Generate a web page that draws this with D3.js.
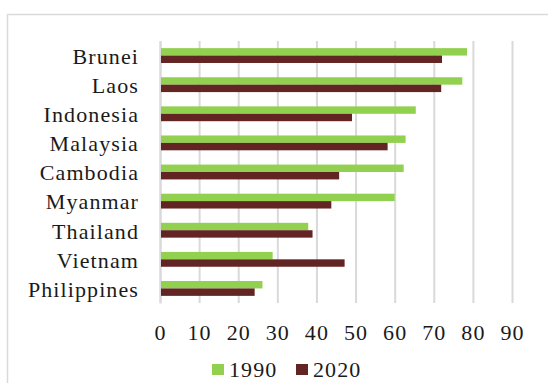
<!DOCTYPE html>
<html>
<head>
<meta charset="utf-8">
<script src="https://cdn.jsdelivr.net/npm/d3@7"></script>
<style>
  body { margin: 0; background: #fff; }
  svg text { font-family: "Liberation Serif", "Times New Roman", serif; fill: #1a1a1a; letter-spacing: 1.1px; }
</style>
</head>
<body>
<svg class="chart" width="548" height="383"></svg>
<script>
// countries, top to bottom
const countries = ["Brunei", "Laos", "Indonesia", "Malaysia", "Cambodia", "Myanmar", "Thailand", "Vietnam", "Philippines"];
const values1990 = [78.5, 77.3, 65.4, 62.8, 62.3, 60.0, 37.9, 28.8, 26.2];
const values2020 = [72.1, 71.9, 49.1, 58.2, 45.8, 43.8, 39.0, 47.2, 24.2];
const years = ["1990", "2020"];
const xTicks = [0, 10, 20, 30, 40, 50, 60, 70, 80, 90];
const colors = ["#92d050", "#632523"];

const svg = d3.select(".chart");
const plot = { left: 160, right: 512, top: 41, bottom: 303 };

// outer chart frame
svg.append("rect")
    .attr("x", 7.5).attr("y", 14.5)
    .attr("width", 600).attr("height", 400)
    .attr("fill", "none")
    .attr("stroke", "#d9d9d9")
    .attr("stroke-width", 1.5);

const x = d3.scaleLinear().domain([0, 90]).range([plot.left, plot.right]);
const y = d3.scaleBand().domain(countries).range([plot.top, plot.bottom]).paddingInner(0.49).paddingOuter(0.245);
const ySub = d3.scaleBand().domain(years).range([0, y.bandwidth()]);

// gridlines
const xAxis = d3.axisBottom(x).tickValues(xTicks).tickSize(plot.bottom - plot.top).tickFormat(d => d);
const gx = svg.append("g")
    .attr("transform", `translate(0,${plot.top})`)
    .call(xAxis);
gx.select(".domain").remove();
gx.selectAll(".tick line").attr("stroke", "#d9d9d9").attr("stroke-width", 2);
gx.selectAll(".tick text")
    .attr("y", plot.bottom - plot.top + 30)
    .attr("dy", "0.32em")
    .style("font-size", "22px");

// category axis
const yAxis = d3.axisLeft(y).tickSize(0).tickPadding(21);
const gy = svg.append("g")
    .attr("transform", `translate(${plot.left},0)`)
    .call(yAxis);
gy.select(".domain").attr("stroke", "#d9d9d9").attr("stroke-width", 2);
gy.selectAll(".tick text").style("font-size", "22px").attr("dy", "0.38em");

// bars
const rows = countries.map((c, i) => ({ country: c, vals: [values1990[i], values2020[i]] }));
const groups = svg.append("g").selectAll("g")
    .data(rows)
    .join("g")
    .attr("transform", d => `translate(0,${y(d.country)})`);

groups.selectAll("rect")
    .data(d => d.vals.map((v, k) => ({ year: years[k], value: v, color: colors[k] })))
    .join("rect")
    .attr("x", x(0) + 1)
    .attr("y", d => ySub(d.year))
    .attr("width", d => x(d.value) - x(0) - 1)
    .attr("height", ySub.bandwidth())
    .attr("fill", d => d.color);

// legend
const legend = svg.append("g").attr("transform", "translate(212,364)");
const items = legend.selectAll("g")
    .data(years)
    .join("g")
    .attr("transform", (d, i) => `translate(${i * 84},0)`);
items.append("rect")
    .attr("width", 12).attr("height", 11)
    .attr("fill", (d, i) => colors[i]);
items.append("text")
    .attr("x", 17).attr("y", 6)
    .attr("dy", "0.34em")
    .style("font-size", "22px")
    .text(d => d);
</script>
</body>
</html>
